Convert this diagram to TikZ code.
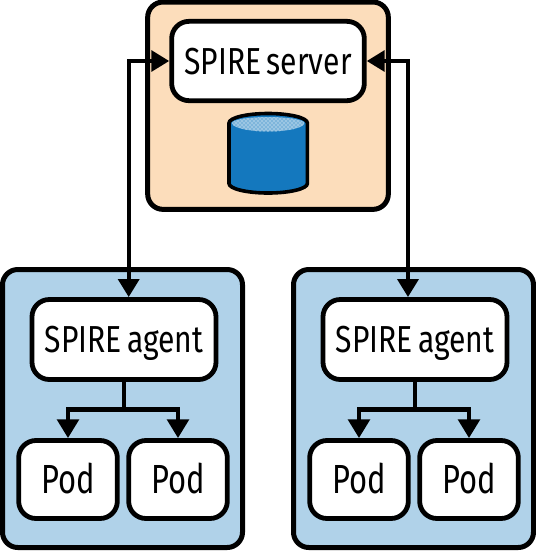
\documentclass[tikz,border=0pt]{standalone}
\usepackage{fontspec}
\setmainfont[FakeStretch=0.8,WordSpace=0.7]{Fira Sans}
\newfontfamily\podfont[FakeStretch=0.76]{Fira Sans}
\usetikzlibrary{arrows.meta,calc,patterns}
\definecolor{peach}{HTML}{FCDDBB}
\definecolor{panel}{HTML}{B0D2E9}
\definecolor{dbblue}{HTML}{1478BE}
\tikzset{
  panelbox/.style={draw=black,line width=3.75pt,rounded corners=11.5pt,inner sep=0pt},
  whitebox/.style={draw=black,fill=white,line width=3.6pt,rounded corners=13pt,inner sep=0pt,
    font=\fontsize{28.2pt}{30pt}\selectfont,text=black,text height=19.5pt,text depth=0pt},
  agentbox/.style={whitebox,minimum width=138pt,minimum height=60pt},
  podbox/.style={whitebox,minimum width=74pt,minimum height=58.5pt,font=\podfont\fontsize{30.5pt}{32pt}\selectfont,text height=21pt},
  link/.style={draw=black,line width=3.2pt,-{Triangle[length=14pt,width=16pt]}},
  bilink/.style={draw=black,line width=3.2pt,{Triangle[length=13.5pt,width=15.5pt]}-{Triangle[length=13.5pt,width=15.5pt]}},
  plain/.style={draw=black,line width=3.2pt}
}
\begin{document}
\begin{tikzpicture}[x=0.75pt,y=-0.75pt]
\useasboundingbox (0,0) rectangle (536,551);
% panels
\node[panelbox,fill=peach,minimum width=180.5pt,minimum height=155.5pt] (srvp) at (268,105.7) {};
\node[panelbox,fill=panel,minimum width=180pt,minimum height=208.5pt] (lp) at (122.5,408.5) {};
\node[panelbox,fill=panel,minimum width=180pt,minimum height=208.5pt] (rp) at (413.5,408.5) {};
% server
\node[whitebox,minimum width=144.5pt,minimum height=59.5pt] (srv) at (268,61) {SPIRE server};
% cylinder
\draw[line width=2.7pt,fill=dbblue] (229,123) -- (229,183.5) arc[start angle=180,end angle=0,x radius=39.2,y radius=9.5] -- (307.4,123)
  arc[start angle=360,end angle=180,x radius=39.2,y radius=9.5] -- cycle;
\fill[white!45!dbblue] (232,123) arc[start angle=180,end angle=0,x radius=36.2,y radius=8.5] arc[start angle=360,end angle=180,x radius=36.2,y radius=6] -- cycle;
\fill[pattern=crosshatch dots,pattern color=white] (232,123) arc[start angle=180,end angle=0,x radius=36.2,y radius=8.5] arc[start angle=360,end angle=180,x radius=36.2,y radius=6] -- cycle;
% agents and pods
\node[agentbox] (al) at (124,339.5) {SPIRE agent};
\node[podbox] (p1) at (68,479.5) {Pod};
\node[podbox] (p2) at (178,479.5) {Pod};
\node[agentbox] (ar) at (415,339.5) {SPIRE agent};
\node[podbox] (p3) at (359,479.5) {Pod};
\node[podbox] (p4) at (469,479.5) {Pod};
% connectors
\coordinate (vl) at (128.7,200);
\coordinate (vr) at (408,200);
\draw[bilink] (srv.west) -| (vl) -- (vl |- al.north);
\draw[bilink] (srv.east) -| (vr) -- (vr |- ar.north);
\coordinate (bl) at ($(al.south)+(0,27.5)$);
\coordinate (br) at ($(ar.south)+(0,27.5)$);
\draw[plain] (al.south) -- (bl);
\draw[plain] (br) -- (ar.south);
\draw[link] (bl) -| (p1.north);
\draw[link] (bl) -| (p2.north);
\draw[link] (br) -| (p3.north);
\draw[link] (br) -| (p4.north);
\end{tikzpicture}
\end{document}
